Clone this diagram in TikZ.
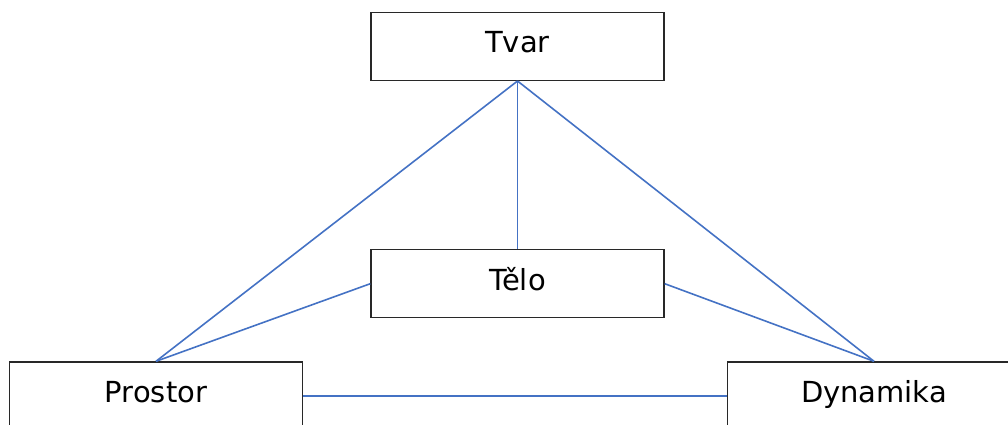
\documentclass[tikz,border=0pt]{standalone}
\usepackage{fontspec}
\setmainfont{DejaVu Sans}
\definecolor{linkblue}{RGB}{68,114,196}
\definecolor{boxline}{RGB}{40,40,40}
\begin{document}
\begin{tikzpicture}[x=1pt,y=-1pt,
  concept/.style={draw=boxline, line width=1.4pt, fill=white, minimum width=293pt,
    minimum height=68pt, inner sep=0pt, font=\fontsize{29}{34}\selectfont,
    text height=20pt, text depth=7pt},
  link/.style={draw=linkblue, line width=1.6pt}]
\useasboundingbox (0,0) rectangle (1008,425);
\clip (0,0) rectangle (1008,425);
% concept boxes
\node[concept] (tvar) at (517.5,46.3) {Tvar};
\node[concept] (telo) at (517.5,283.7) {Tělo};
\node[concept] (prostor) at (156,396) {Prostor};
\node[concept] (dyn) at (874,396) {Dynamika};
% links between the concepts
\draw[link] (tvar.south) -- (telo.north);
\draw[link] (tvar.south) -- (prostor.north);
\draw[link] (tvar.south) -- (dyn.north);
\draw[link] (telo.west) -- (prostor.north);
\draw[link] (telo.east) -- (dyn.north);
\draw[link] (prostor.east) -- (dyn.west);
\end{tikzpicture}
\end{document}
